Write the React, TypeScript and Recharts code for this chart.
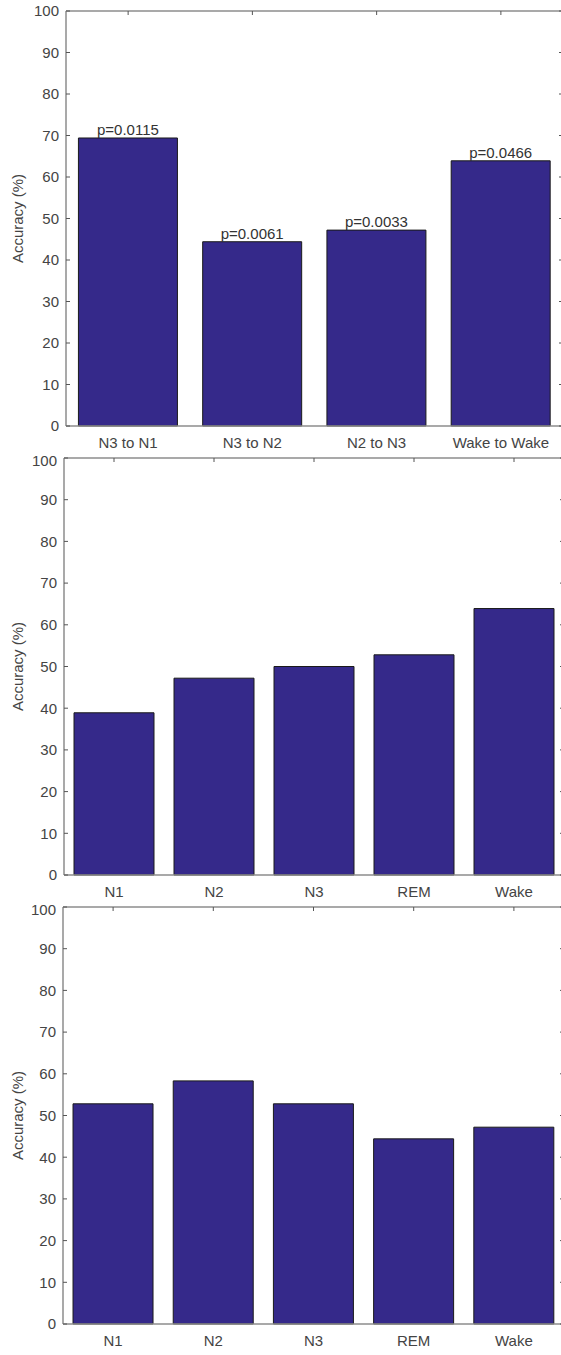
import React from 'react';
import { BarChart, Bar, XAxis, YAxis, LabelList } from 'recharts';

// panel 1: transitions
const transitionCats = ['N3 to N1', 'N3 to N2', 'N2 to N3', 'Wake to Wake'];
const transitionAcc = [69.4, 44.4, 47.2, 63.9];
const transitionP = ['p=0.0115', 'p=0.0061', 'p=0.0033', 'p=0.0466'];

// panels 2 and 3: stages
const stageCats = ['N1', 'N2', 'N3', 'REM', 'Wake'];
const stageAccMiddle = [38.9, 47.2, 50.0, 52.8, 63.9];
const stageAccBottom = [52.8, 58.3, 52.8, 44.4, 47.2];

const yTicks = [0, 10, 20, 30, 40, 50, 60, 70, 80, 90, 100];

const FONT = '"Liberation Sans", Arial, sans-serif';
const BAR_FILL = '#35298a';
const AXIS_GRAY = '#8c8c8c';
const TEXT_GRAY = '#444';
const FS = 15;

const renderYLabel = (props: any) => {
  const vb = props.viewBox || {};
  const cx = (vb.x || 0) + 17;
  const cy = (vb.y || 0) + (vb.height || 0) / 2;
  return (
    <text
      x={cx}
      y={cy}
      transform={`rotate(-90, ${cx}, ${cy})`}
      textAnchor="middle"
      dominantBaseline="central"
      fill={TEXT_GRAY}
      fontSize={FS}
      fontFamily={FONT}
    >
      Accuracy (%)
    </text>
  );
};

interface PanelProps {
  cats: string[];
  values: number[];
  pvals?: string[];
  top: number;
  width: number;
  height: number;
  marginTop: number;
  axisWidth: number;
  xAxisHeight: number;
}

const Panel: React.FC<PanelProps> = ({ cats, values, pvals, top, width, height, marginTop, axisWidth, xAxisHeight }) => {
  const data = cats.map((c, i) => ({ name: c, acc: values[i], p: pvals ? pvals[i] : '' }));
  const tickStyle = { fill: TEXT_GRAY, fontSize: FS, fontFamily: FONT };

  return (
    <div style={{ position: 'absolute', top, left: 0 }}>
      <BarChart
        width={width + 1}
        height={height}
        data={data}
        margin={{ top: marginTop - 1, right: 0, left: 0, bottom: 0 }}
        barCategoryGap="10%"
      >
        <XAxis
          dataKey="name"
          height={xAxisHeight}
          tick={tickStyle}
          tickLine={false}
          tickSize={6}
          tickMargin={5}
          interval={0}
          axisLine={{ stroke: AXIS_GRAY, strokeWidth: 1.5 }}
        />
        {/* top frame edge with inward category ticks (axes need a size > 0 to be drawn) */}
        <XAxis
          xAxisId="top"
          dataKey="name"
          orientation="top"
          height={1}
          tickSize={-4}
          tickFormatter={() => ''}
          interval={0}
          tickLine={{ stroke: '#555' }}
          axisLine={{ stroke: AXIS_GRAY, strokeWidth: 1.5 }}
        />
        <YAxis
          type="number"
          domain={[0, 100]}
          ticks={yTicks}
          width={axisWidth}
          tick={tickStyle}
          tickSize={-4}
          tickMargin={11}
          tickLine={{ stroke: '#555' }}
          axisLine={{ stroke: AXIS_GRAY, strokeWidth: 1.5 }}
          label={renderYLabel}
        />
        <YAxis
          yAxisId="right"
          orientation="right"
          type="number"
          domain={[0, 100]}
          ticks={yTicks}
          width={1}
          tickSize={-4}
          tickFormatter={() => ''}
          tickLine={{ stroke: '#555' }}
          axisLine={{ stroke: AXIS_GRAY, strokeWidth: 1.5 }}
        />
        <Bar xAxisId="top" yAxisId="right" dataKey="acc" fill="none" stroke="none" isAnimationActive={false} />
        <Bar dataKey="acc" fill={BAR_FILL} stroke="#1a1a1a" strokeWidth={1} isAnimationActive={false}>
          {pvals && (
            <LabelList dataKey="p" position="top" offset={3} fill="#333" fontSize={FS} fontFamily={FONT} />
          )}
        </Bar>
      </BarChart>
    </div>
  );
};

export default function App() {
  return (
    <div style={{ position: 'absolute', top: 0, left: 0, width: 561, height: 1355, overflow: 'hidden', background: '#fff' }}>
      <Panel cats={transitionCats} values={transitionAcc} pvals={transitionP}
        top={0} width={563} height={452} marginTop={11} axisWidth={66} xAxisHeight={26} />
      <Panel cats={stageCats} values={stageAccMiddle}
        top={452} width={564} height={449} marginTop={6} axisWidth={64} xAxisHeight={26} />
      <Panel cats={stageCats} values={stageAccBottom}
        top={901} width={564} height={454} marginTop={6} axisWidth={63} xAxisHeight={31} />
    </div>
  );
}
